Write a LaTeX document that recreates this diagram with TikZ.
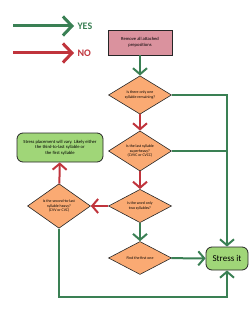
\documentclass[tikz,border=0pt]{standalone}
\usepackage{fontspec}
\setmainfont{Carlito}
\usetikzlibrary{shapes.geometric,arrows.meta}
\definecolor{yesgreen}{RGB}{58,128,84}
\definecolor{nored}{RGB}{192,52,60}
\definecolor{askfill}{RGB}{250,170,115}
\definecolor{leaffill}{RGB}{160,214,120}
\definecolor{startfill}{RGB}{218,146,158}
\tikzset{
    question/.style={diamond, draw=black!85, fill=askfill, line width=0.6pt,
        minimum width=63pt, minimum height=33pt, inner sep=0pt, align=center,
        font=\fontsize{3.9}{4.6}\selectfont},
    yesline/.style={yesgreen, line width=2pt},
    noline/.style={nored, line width=2pt},
    yesarrow/.style={yesline, -{Straight Barb[length=6pt,width=14pt]}},
    noarrow/.style={noline, -{Straight Barb[length=6pt,width=14pt]}},
}
\begin{document}
\begin{tikzpicture}[x=1pt, y=-1pt]
    \useasboundingbox (0,0) rectangle (250,321);
    % legend
    \coordinate (yes-start) at (13,26);
    \coordinate (no-start) at (13,53);
    \node[text=yesgreen, font=\bfseries\fontsize{10}{11}\selectfont, anchor=west] (yes-label) at (74,26) {YES};
    \node[text=nored, font=\bfseries\fontsize{10}{11}\selectfont, anchor=west] (no-label) at (74,53) {NO};
    \draw[yesgreen, line width=3pt, -{Straight Barb[length=9pt,width=19pt]}] (yes-start) -- (yes-label.west);
    \draw[nored, line width=3pt, -{Straight Barb[length=9pt,width=19pt]}] (no-start) -- (no-label.west);
    % boxes and questions
    \node[draw=black!85, fill=startfill, line width=0.7pt, minimum width=64pt, minimum height=25pt,
        align=center, font=\fontsize{4.6}{5.6}\selectfont] (remove) at (140,42.5) {Remove all attached\\prepositions};
    \node[question] (q-one) at (140,95) {Is there only one\\syllable remaining?};
    \node[question] (q-super) at (140,151) {Is the last syllable\\superheavy?\\(CVVC or CVCC)};
    \node[question] (q-two) at (140,206) {Is the word only\\two syllables?};
    \node[question] (q-heavy) at (59,206) {Is the second-to-last\\syllable heavy?\\(CVV or CVC)};
    \node[question] (q-first) at (140,258) {Find the first one};
    \node[draw=black!85, fill=leaffill, rounded corners=6pt, line width=0.8pt, minimum width=86pt,
        minimum height=29pt, inner sep=1pt, align=center, font=\fontsize{4.6}{5.6}\selectfont] (vary) at (60,147.5)
        {Stress placement will vary. Likely either\\the third-to-last syllable or\\the first syllable};
    \node[draw=black!85, fill=leaffill, rounded corners=6pt, line width=0.8pt, minimum width=42pt,
        minimum height=23pt, font=\fontsize{9}{10}\selectfont] (stress) at (227,258.5) {Stress it};
    \coordinate (rail-top) at (227,95);
    \coordinate (rail-mid) at (227,151);
    \coordinate (rail-low) at (227,297);
    % connectors
    \draw[yesarrow] (remove) -- (q-one);
    \draw[noarrow] (q-one) -- (q-super);
    \draw[noarrow] (q-super) -- (q-two);
    \draw[noarrow] (q-two) -- (q-heavy);
    \draw[noarrow] (q-heavy) -- (vary);
    \draw[yesarrow] (q-two) -- (q-first);
    \draw[yesarrow] (q-first) -- (stress);
    \draw[yesarrow] (q-one.east) -- (rail-top) -- (stress.north);
    \draw[yesline] (q-super.east) -- (rail-mid);
    \draw[yesarrow] (q-heavy.south) |- (rail-low) -- (stress.south);
\end{tikzpicture}
\end{document}
